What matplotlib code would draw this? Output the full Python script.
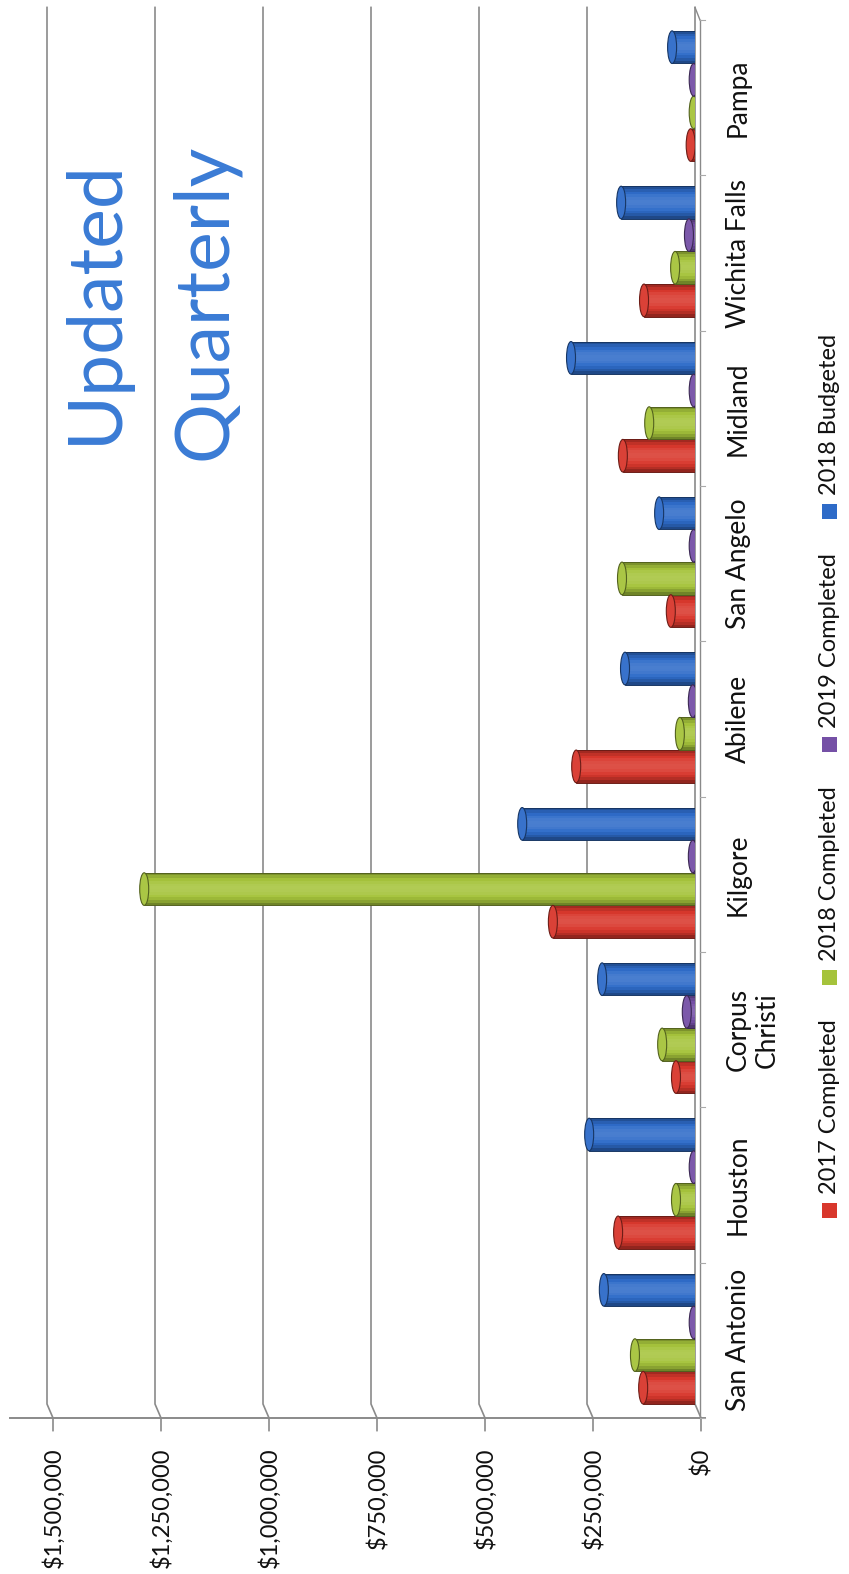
import numpy as np
import matplotlib
matplotlib.use("Agg")
import matplotlib.pyplot as plt
from matplotlib.patches import Ellipse, Rectangle
from matplotlib.colors import to_rgb
from matplotlib.transforms import blended_transform_factory, ScaledTranslation

plt.rcParams["font.family"] = ["Lato", "DejaVu Sans"]

# --- data ---
cities = ["San Antonio", "Houston", "Corpus\nChristi", "Kilgore", "Abilene",
          "San Angelo", "Midland", "Wichita Falls", "Pampa"]
done_2017 = [120000, 178000, 44000, 329000, 275000, 56000, 167000, 118000, 10000]
done_2018 = [139000, 44000, 76000, 1275000, 35000, 169000, 106000, 46000, 3000]
done_2019 = [3000, 3000, 19000, 5000, 5000, 3000, 3000, 14000, 3000]
budget_2018 = [211000, 245000, 215000, 400000, 162000, 83000, 287000, 171000, 53000]
series_names = ["2017 Completed", "2018 Completed", "2019 Completed", "2018 Budgeted"]
series_colors = ["#d8372c", "#a5c33b", "#7550a6", "#2e6bc8"]
value_ticks = [0, 250000, 500000, 750000, 1000000, 1250000, 1500000]
tick_labels = ["$0", "$250,000", "$500,000", "$750,000",
               "$1,000,000", "$1,250,000", "$1,500,000"]

W, H = 849, 1574
fig = plt.figure(figsize=(W / 100, H / 100), dpi=100)
fig.patch.set_facecolor("white")

# axes box in pixels: value 0 at x=695, $250k per 108 px
ax_left, ax_right, ax_top, ax_bot = 10, 695, 20, 1418
ax = fig.add_axes([ax_left / W, 1 - ax_bot / H,
                   (ax_right - ax_left) / W, (ax_bot - ax_top) / H])
per_px = 250000 / 108.0
ax.set_xlim((ax_right - ax_left) * per_px, 0)
ax.set_ylim(-0.5, len(cities) - 0.5)
for s in ax.spines.values():
    s.set_visible(False)
ax.patch.set_alpha(0)

grid_c = "#8a8a8a"
trans = blended_transform_factory(ax.transData, ax.transAxes)
kink = 6 * per_px  # 3D wall-to-floor offset
for v in value_ticks:
    ax.plot([v, v, v - kink, v - kink], [1.009, 0.01, 0.0, -0.009],
            color=grid_c, lw=1.2, transform=trans, clip_on=False, zorder=1)
# floor line
ax.plot([ax.get_xlim()[0], -10 * per_px], [0, 0], color=grid_c, lw=1.4,
        transform=trans, clip_on=False, zorder=1)
# category axis with boundary ticks
cx = -5 * per_px
ax.plot([cx, cx], [0, 1.0], color=grid_c, lw=1.0, transform=trans,
        clip_on=False, zorder=1)
ax.plot([0, cx], [1.009, 1.0], color=grid_c, lw=1.0, transform=trans,
        clip_on=False, zorder=1)
for b in np.arange(-0.5, len(cities), 1.0):
    ax.plot([cx, cx - 5 * per_px], [b, b], color="#aaaaaa", lw=0.8,
            clip_on=False, zorder=1)

# --- cylinder bars ---
def shade(col, f):
    c = np.array(to_rgb(col))
    if f < 1:
        return tuple(c * f)
    return tuple(c + (1 - c) * (f - 1))

bar_h = 0.21
offsets = [-0.305, -0.095, 0.115, 0.325]
ypos = np.arange(len(cities))
cap_w = 9 * per_px
n_strip = 12
series = [done_2017, done_2018, done_2019, budget_2018]
for vals, col, off in zip(series, series_colors, offsets):
    y = ypos + off
    for k in range(n_strip):
        t = (k + 0.5) / n_strip
        f = 0.62 + 0.55 * np.sin(np.pi * t) ** 0.7 - 0.08 * (1 - t)
        ax.barh(y - bar_h / 2 + (k + 0.5) * bar_h / n_strip, vals,
                height=bar_h / n_strip, left=0, color=shade(col, f),
                linewidth=0, zorder=3)
    ax.barh(y, vals, height=bar_h, left=0, fill=False,
            edgecolor=shade(col, 0.5), linewidth=0.7, zorder=4)
    for yi, v in zip(y, vals):
        ax.add_patch(Ellipse((v, yi), cap_w, bar_h, facecolor=shade(col, 1.05),
                             edgecolor=shade(col, 0.5), linewidth=0.8, zorder=5))

# --- ticks and labels ---
ax.set_xticks(value_ticks)
ax.set_xticklabels(tick_labels, rotation=90, fontsize=17, color="#111111")
ax.tick_params(axis="x", length=0, pad=21)
for lab in ax.get_xticklabels():
    lab.set_transform(lab.get_transform() +
                      ScaledTranslation(6 / 100, 0, fig.dpi_scale_trans))

ax.yaxis.tick_right()
ax.set_yticks(ypos)
ax.set_yticklabels(cities, rotation=90, fontsize=19, color="#111111",
                   multialignment="center", va="center")
ax.tick_params(axis="y", length=0, pad=22)

# --- legend (rotated) ---
leg_x = 829
leg_y = [1210, 977, 744, 511]
for name, col, ly in zip(series_names, series_colors, leg_y):
    fig.patches.append(Rectangle(((leg_x - 7.5) / W, 1 - (ly + 7.5) / H),
                                 15 / W, 15 / H, transform=fig.transFigure,
                                 facecolor=col, edgecolor="none"))
    fig.text(leg_x / W, 1 - (ly - 16) / H, name, rotation=90, fontsize=17,
             ha="center", va="bottom", color="#111111")

# --- overlay note ---
note_c = "#3a7bd5"
fig.text(95 / W, 1 - 302 / H, "Updated", rotation=90, fontsize=54,
         ha="center", va="center", color=note_c)
fig.text(205 / W, 1 - 302 / H, "Quarterly", rotation=90, fontsize=54,
         ha="center", va="center", color=note_c)

fig.savefig("out.png", dpi=100, facecolor="white")
